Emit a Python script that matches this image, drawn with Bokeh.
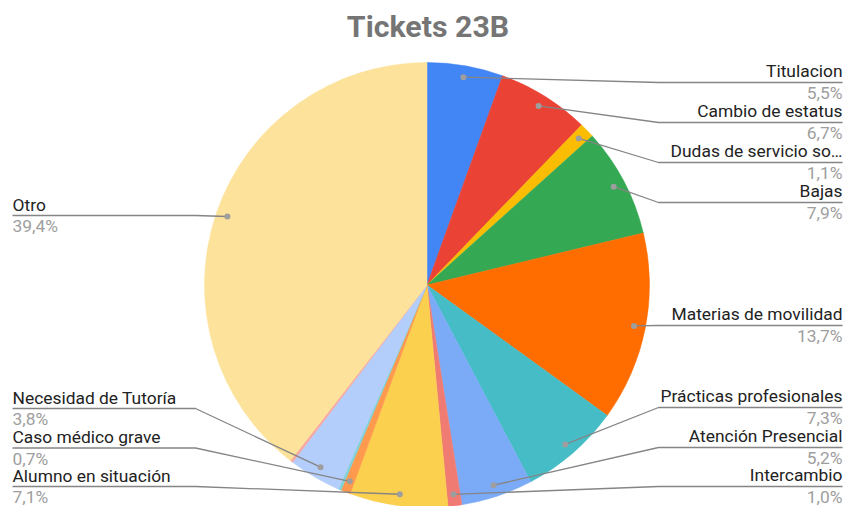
import math
from bokeh.plotting import figure
from bokeh.models import Range1d, ColumnDataSource
from bokeh.core.properties import value
from bokeh.embed import file_html
from bokeh.resources import INLINE

# ---------------- data ----------------
categories = ["Titulacion", "Cambio de estatus", "Dudas de servicio so\u2026", "Bajas",
              "Materias de movilidad", "Prácticas profesionales", "Atención Presencial",
              "Intercambio", "Alumno en situación", "Caso médico grave", "(sin etiqueta 1)",
              "Necesidad de Tutoría", "(sin etiqueta 2)", "Otro"]
percentages = [5.5, 6.7, 1.1, 7.9, 13.7, 7.3, 5.2, 1.0, 7.1, 0.7, 0.2, 3.8, 0.2, 39.4]
pct_labels = ["5,5%", "6,7%", "1,1%", "7,9%", "13,7%", "7,3%", "5,2%", "1,0%",
              "7,1%", "0,7%", "", "3,8%", "", "39,4%"]
colors = ["#4285F4", "#EA4335", "#FBBC04", "#34A853", "#FF6D01", "#46BDC6", "#7BAAF7",
          "#F07B72", "#FCD04F", "#FF994D", "#7ED1D7", "#B3CEFB", "#F7A7A0", "#FCE29A"]
title_text = "Tickets 23B"

# ---------------- layout (reference pixel coordinates) ----------------
CX, CY = 426.5, 284.5          # pie centre
R_PX = 222.5                   # pie radius (px)
DOT_R = 211.0                  # radius of the leader dots
ELBOW_RIGHT, ELBOW_LEFT = 658, 195
EDGE_RIGHT, EDGE_LEFT = 842, 12
# side and leader-line height of every labelled slice (None = no label)
label_side = ["R", "R", "R", "R", "R", "R", "R", "R", "L", "L", None, "L", None, "L"]
label_line_y = [82, 122, 162, 202, 325, 407, 447, 486, 486, 447.5, None, 408, None, 215]

W, H = 845, 506
p = figure(width=W, height=H, output_backend="svg", toolbar_location=None,
           x_range=Range1d(0, W), y_range=Range1d(-H, 0),
           min_border=0, outline_line_color=None, background_fill_color="white",
           border_fill_color="white")
p.axis.visible = False
p.grid.visible = False

total = sum(percentages)

starts, ends, mids = [], [], []
c = 0.0
for v in percentages:
    c0 = c / total
    c += v
    c1 = c / total
    starts.append(math.pi / 2 - 2 * math.pi * c1)
    ends.append(math.pi / 2 - 2 * math.pi * c0)
    mids.append(2 * math.pi * (c0 + c1) / 2)   # clockwise from top

src = ColumnDataSource(dict(x=[CX] * len(percentages), y=[-CY] * len(percentages),
                            start=starts, end=ends, color=colors))
p.wedge(x="x", y="y", radius=R_PX, radius_units="screen",
        start_angle="start", end_angle="end", direction="anticlock",
        fill_color="color", line_color="color", line_width=0.5, source=src)

# leader lines, dots and labels
dot_x, dot_y = [], []
lx, ly = [], []
name_r = dict(x=[], y=[], t=[])
pct_r = dict(x=[], y=[], t=[])
name_l = dict(x=[], y=[], t=[])
pct_l = dict(x=[], y=[], t=[])
for i, side in enumerate(label_side):
    if side is None:
        continue
    th = mids[i]
    dx = CX + DOT_R * math.sin(th)
    dy = CY - DOT_R * math.cos(th)
    dot_x.append(dx)
    dot_y.append(-dy)
    yl = label_line_y[i]
    if side == "R":
        elbow = max(ELBOW_RIGHT, dx)
        lx.append([dx, elbow, EDGE_RIGHT])
        ly.append([-dy, -yl, -yl])
        name_r["x"].append(EDGE_RIGHT); name_r["y"].append(-(yl - 11.5)); name_r["t"].append(categories[i])
        pct_r["x"].append(EDGE_RIGHT); pct_r["y"].append(-(yl + 10.5)); pct_r["t"].append(pct_labels[i])
    else:
        elbow = min(ELBOW_LEFT, dx)
        lx.append([dx, elbow, EDGE_LEFT])
        ly.append([-dy, -yl, -yl])
        name_l["x"].append(EDGE_LEFT); name_l["y"].append(-(yl - 11)); name_l["t"].append(categories[i])
        pct_l["x"].append(EDGE_LEFT); pct_l["y"].append(-(yl + 10.5)); pct_l["t"].append(pct_labels[i])

p.multi_line(xs=lx, ys=ly, line_color="#858585", line_width=1.3)
p.scatter(x=dot_x, y=dot_y, size=6, fill_color="#9e9e9e", line_color=None)

font = value("Roboto")
fs = "17.4px"
p.text(x="x", y="y", text="t", source=ColumnDataSource(name_r), text_align="right",
       text_baseline="middle", text_font=font, text_font_size=fs, text_color="#222222")
p.text(x="x", y="y", text="t", source=ColumnDataSource(pct_r), text_align="right",
       text_baseline="middle", text_font=font, text_font_size=fs, text_color="#9e9e9e")
p.text(x="x", y="y", text="t", source=ColumnDataSource(name_l), text_align="left",
       text_baseline="middle", text_font=font, text_font_size=fs, text_color="#222222")
p.text(x="x", y="y", text="t", source=ColumnDataSource(pct_l), text_align="left",
       text_baseline="middle", text_font=font, text_font_size=fs, text_color="#9e9e9e")

p.text(x=[427.5], y=[-26], text=[title_text], text_align="center", text_baseline="middle",
       text_font=font, text_font_size="30.3px", text_font_style="bold", text_color="#757575")

open("out.html", "w").write(file_html(p, INLINE))
